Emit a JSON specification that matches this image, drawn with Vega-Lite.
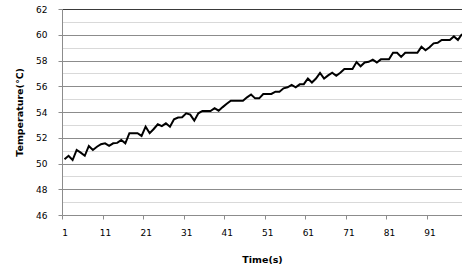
{
"$schema": "https://vega.github.io/schema/vega-lite/v6.json",
"width": 400, "height": 206,
"autosize": {"type": "none"},
"padding": {"left": 62, "top": 9, "right": 0, "bottom": 56},
"config": {"view": {"stroke": null}, "font": "DejaVu Sans"},
"data": {"values": [
{"t":1,"v":50.33},{"t":2,"v":50.6},{"t":3,"v":50.27},{"t":4,"v":51.05},{"t":5,"v":50.84},
{"t":6,"v":50.6},{"t":7,"v":51.36},{"t":8,"v":51.05},{"t":9,"v":51.3},{"t":10,"v":51.5},
{"t":11,"v":51.57},{"t":12,"v":51.38},{"t":13,"v":51.57},{"t":14,"v":51.6},{"t":15,"v":51.83},
{"t":16,"v":51.57},{"t":17,"v":52.35},{"t":18,"v":52.35},{"t":19,"v":52.35},{"t":20,"v":52.14},
{"t":21,"v":52.86},{"t":22,"v":52.35},{"t":23,"v":52.68},{"t":24,"v":53.05},{"t":25,"v":52.9},
{"t":26,"v":53.12},{"t":27,"v":52.86},{"t":28,"v":53.43},{"t":29,"v":53.57},{"t":30,"v":53.59},
{"t":31,"v":53.9},{"t":32,"v":53.8},{"t":33,"v":53.33},{"t":34,"v":53.9},{"t":35,"v":54.08},
{"t":36,"v":54.08},{"t":37,"v":54.08},{"t":38,"v":54.3},{"t":39,"v":54.1},{"t":40,"v":54.38},
{"t":41,"v":54.64},{"t":42,"v":54.88},{"t":43,"v":54.88},{"t":44,"v":54.88},{"t":45,"v":54.88},
{"t":46,"v":55.14},{"t":47,"v":55.36},{"t":48,"v":55.06},{"t":49,"v":55.06},{"t":50,"v":55.4},
{"t":51,"v":55.4},{"t":52,"v":55.4},{"t":53,"v":55.58},{"t":54,"v":55.58},{"t":55,"v":55.84},
{"t":56,"v":55.92},{"t":57,"v":56.1},{"t":58,"v":55.92},{"t":59,"v":56.15},{"t":60,"v":56.16},
{"t":61,"v":56.6},{"t":62,"v":56.29},{"t":63,"v":56.6},{"t":64,"v":57.04},{"t":65,"v":56.6},
{"t":66,"v":56.84},{"t":67,"v":57.05},{"t":68,"v":56.81},{"t":69,"v":57.05},{"t":70,"v":57.34},
{"t":71,"v":57.34},{"t":72,"v":57.34},{"t":73,"v":57.88},{"t":74,"v":57.55},{"t":75,"v":57.85},
{"t":76,"v":57.9},{"t":77,"v":58.06},{"t":78,"v":57.85},{"t":79,"v":58.09},{"t":80,"v":58.09},
{"t":81,"v":58.09},{"t":82,"v":58.6},{"t":83,"v":58.6},{"t":84,"v":58.28},{"t":85,"v":58.6},
{"t":86,"v":58.6},{"t":87,"v":58.6},{"t":88,"v":58.6},{"t":89,"v":59.06},{"t":90,"v":58.79},
{"t":91,"v":59.03},{"t":92,"v":59.33},{"t":93,"v":59.38},{"t":94,"v":59.6},{"t":95,"v":59.6},
{"t":96,"v":59.6},{"t":97,"v":59.87},{"t":98,"v":59.6},{"t":99,"v":60.05}
]},
"mark": {"type": "line", "color": "#000000", "strokeWidth": 2, "clip": true},
"encoding": {
"x": {"field": "t", "type": "quantitative",
"scale": {"domain": [0.384, 99], "nice": false, "zero": false},
"axis": {"values": [1,11,21,31,41,51,61,71,81,91], "title": "Time(s)", "grid": false, "domain": false,
"tickColor": "#8c8c8c", "tickSize": 4, "tickOffset": -2.5, "labelOffset": 2.5, "labelPadding": 9,
"labelFontSize": 9, "labelColor": "#000000", "titleFontSize": 9.5, "titleFontWeight": "bold",
"titleColor": "#000000", "titlePadding": 17}},
"y": {"field": "v", "type": "quantitative",
"scale": {"domain": [46, 62], "nice": false, "zero": false},
"axis": {"values": [46,47,48,49,50,51,52,53,54,55,56,57,58,59,60,61,62],
"labelExpr": "datum.value % 2 === 0 ? datum.label : ''",
"labelOverlap": false,
"gridColor": {"condition": [{"test": "datum.value === 62", "value": "#3a3a3a"}, {"test": "datum.value % 2 === 0", "value": "#8c8c8c"}], "value": "#d9d9d9"},
"tickOpacity": {"condition": {"test": "datum.value % 2 === 0", "value": 1}, "value": 0},
"tickColor": "#8c8c8c", "domainColor": "#8c8c8c", "tickSize": 4, "labelPadding": 11,
"labelFontSize": 9, "labelColor": "#000000",
"title": "Temperature(℃)", "titleFontWeight": "bold", "titleFontSize": 9.5, "titleColor": "#000000", "titlePadding": 11}}
}
}
